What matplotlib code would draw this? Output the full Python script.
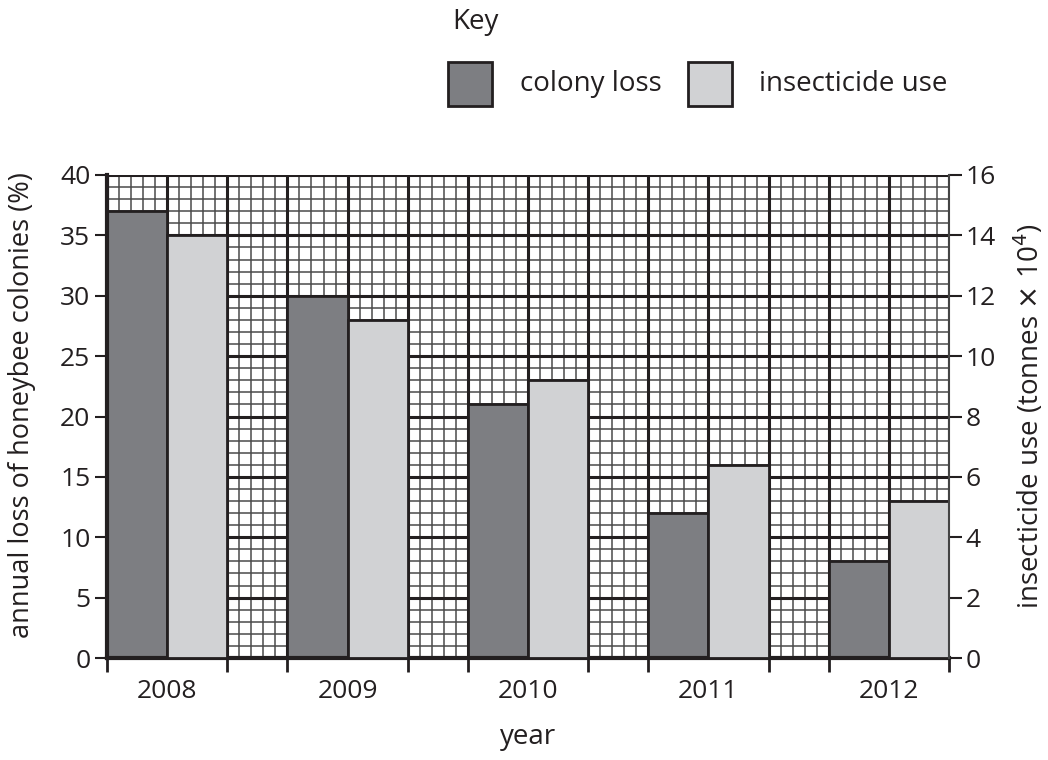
import numpy as np
import matplotlib
matplotlib.use('Agg')
import matplotlib.pyplot as plt
from matplotlib.patches import Rectangle

plt.rcParams['font.family'] = ['Open Sans', 'DejaVu Sans']

years = ['2008', '2009', '2010', '2011', '2012']
colony_loss = [37, 30, 21, 12, 8]            # % (left axis)
insecticide_use = [14, 11.2, 9.2, 6.4, 5.2]  # tonnes x 10^4 (right axis)

dark = '#7d7e82'
light = '#d1d2d4'
ink = '#231f20'

fig = plt.figure(figsize=(10.48, 7.6), dpi=100)
ax = fig.add_axes([107 / 1048, 1 - 658 / 760, 842 / 1048, 483 / 760])
ax2 = ax.twinx()

# each year takes 3 grid squares: 2 bars and a gap
pos = np.arange(len(years)) * 3
ax.set_xlim(0, 14)
ax.set_ylim(0, 40)
ax2.set_ylim(0, 16)

# graph paper
ax.vlines(np.arange(0, 14.01, 0.2), 0, 40, color='#4a4a4a', lw=1.1, zorder=0)
ax.hlines(np.arange(0, 40.01, 1), 0, 14, color='#4a4a4a', lw=1.1, zorder=0)
ax.vlines(np.arange(0, 15, 1), 0, 40, color=ink, lw=2.2, zorder=0.5)
ax.hlines(np.arange(0, 41, 5), 0, 14, color=ink, lw=2.2, zorder=0.5)

ax.bar(pos + 0.5, colony_loss, width=1, color=dark, edgecolor=ink, lw=2, zorder=2)
ax2.bar(pos + 1.5, insecticide_use, width=1, color=light, edgecolor=ink, lw=2, zorder=2)

# ticks
ax.set_yticks(np.arange(0, 41, 5))
ax2.set_yticks(np.arange(0, 17, 2))
edges = sorted(set(list(pos) + list(pos + 2)))
ax.set_xticks(edges)
ax.set_xticklabels([])
ax.set_xticks(pos + 1, minor=True)
ax.set_xticklabels(years, minor=True)
ax.tick_params(axis='x', which='minor', length=0, labelsize=19, pad=15, colors=ink)
ax.tick_params(axis='x', which='major', length=10, width=2, direction='out', color=ink)
ax.tick_params(axis='y', length=9, width=1.5, labelsize=19, pad=3, colors=ink)
ax2.tick_params(axis='y', length=9, width=1.5, labelsize=19, pad=3, colors=ink)

for s in ['top', 'right']:
    ax.spines[s].set_visible(False)
for s in ['top', 'left', 'bottom']:
    ax2.spines[s].set_visible(False)
ax.spines['left'].set_linewidth(3)
ax.spines['bottom'].set_linewidth(3)
ax.spines['left'].set_color(ink)
ax.spines['bottom'].set_color(ink)
ax2.spines['right'].set_linewidth(1.5)
ax2.spines['right'].set_color('#444444')

ax.set_ylabel('annual loss of honeybee colonies (%)', fontsize=19.5, color=ink)
ax.yaxis.set_label_coords(-0.101, 0.524)
ax.yaxis.label.set_va('center')
ax2.set_ylabel('insecticide use (tonnes $\\times$ 10$^4$)', fontsize=20, color=ink, labelpad=12)
ax.set_xlabel('year', fontsize=20, color=ink, labelpad=14)

# key
fig.text(452 / 1048, 1 - 22 / 760, 'Key', fontsize=20, color=ink, va='center', ha='left')
fig.patches.append(Rectangle((448 / 1048, 1 - 106 / 760), 44 / 1048, 44 / 760,
                             transform=fig.transFigure, facecolor=dark, edgecolor=ink, lw=2))
fig.text(520 / 1048, 1 - 84 / 760, 'colony loss', fontsize=20, color=ink, va='center', ha='left')
fig.patches.append(Rectangle((688 / 1048, 1 - 106 / 760), 44 / 1048, 44 / 760,
                             transform=fig.transFigure, facecolor=light, edgecolor=ink, lw=2))
fig.text(759 / 1048, 1 - 84 / 760, 'insecticide use', fontsize=20, color=ink, va='center', ha='left')

fig.savefig('out.png', dpi=100)
